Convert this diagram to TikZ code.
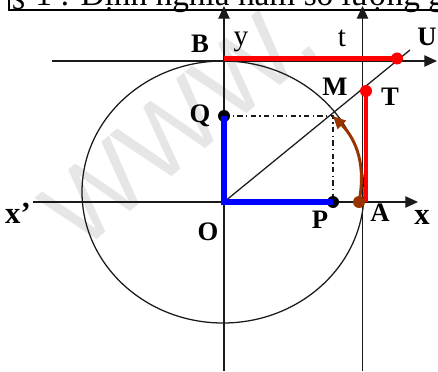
\documentclass[tikz,border=0pt]{standalone}
\usepackage{fontspec}
\setmainfont{Liberation Serif}
\newfontfamily\marksans{Liberation Sans}
\usetikzlibrary{arrows.meta}
\definecolor{Ink}{HTML}{1A1A1A}
\definecolor{Brick}{HTML}{993300}
\definecolor{Mark}{HTML}{E6E6E6}
\tikzset{
  axis/.style={draw=Ink,line width=.95pt,-{Triangle[length=9.5pt,width=8.5pt]}},
  guide/.style={draw=Ink,line width=.95pt},
  proj/.style={draw=Ink,line width=.95pt,dash pattern=on 4pt off 2.5pt on 1pt off 2.5pt},
  bluebar/.style={draw=blue,line width=4pt},
  redbar/.style={draw=red,line width=3.5pt},
  pin/.style={circle,inner sep=0pt,minimum size=9pt,fill=#1},
  lbl/.style={font=\bfseries\fontsize{20}{23}\selectfont,inner sep=0pt},
  axlbl/.style={font=\fontsize{22}{26}\selectfont,inner sep=0pt},
  arcarrow/.style={draw=Brick,line width=2.2pt,-{Triangle[length=9.5pt,width=8.5pt]}}
}

\begin{document}
\begin{tikzpicture}[x=.75pt,y=.75pt]
  \useasboundingbox (-224,-169) rectangle (214,202);

  % watermark and heading
  \node[font=\marksans\fontsize{78}{78}\selectfont,text=Mark,rotate=40] (mark) at (-45,78) {WWW.};
  \draw[line width=1pt] (-215,240) |- (240,192);
  \node[anchor=base west,inner sep=0pt,font=\fontsize{25}{30}\selectfont] (head) at (-214,196) {§ 1 : Định nghĩa hàm số lượng giác};

  % points
  \coordinate (O) at (0,0);
  \coordinate (A) at (138.5,0);
  \coordinate (B) at (0,143.5);
  \coordinate (M) at (109,86);
  \coordinate (P) at (109,0);
  \coordinate (Q) at (0,86);
  \coordinate (T) at (142,111);
  \coordinate (U) at (173,143.5);
  \coordinate (Aa) at (135,0);
  \coordinate (ray) at (186,152);

  % circle and axes
  \draw[guide] (-1,10) ellipse [x radius=141,y radius=131];
  \draw[axis] (0,-169) -- (0,196);
  \draw[axis] (138.5,-169) -- (138.5,196);
  \draw[axis] (-191,0) -- (194,0);
  \draw[axis] (-172,141) -- (213,141);
  \draw[guide] (O) -- (ray);

  % projections
  \draw[proj] (Q) -- (M) -- (P);
  \node[pin=black] (Qdot) at (Q) {};
  \node[pin=black] (Pdot) at (P) {};
  \draw[bluebar] (Qdot.center) -- (O) -- (Pdot.center);

  % tangent values
  \draw[redbar] (B) -- (U);
  \node[pin=red] (Udot) at (U) {};
  \draw[redbar] (142,0) -- (T);
  \node[pin=red] (Tdot) at (T) {};

  % arc AM
  \node[pin=Brick] (Adot) at (Aa) {};
  \draw[arcarrow] (Adot.center) to[bend right=28] (M);

  % labels
  \node[lbl] (lB) at (-24,158) {B};
  \node[axlbl] (ly) at (17,160) {y};
  \node[axlbl] (lt) at (118,164) {t};
  \node[lbl] (lU) at (203,165) {U};
  \node[lbl] (lM) at (111,115) {M};
  \node[lbl] (lT) at (166,105) {T};
  \node[lbl] (lQ) at (-24,86) {Q};
  \node[lbl] (lO) at (-16,-30) {O};
  \node[lbl] (lP) at (96,-18) {P};
  \node[lbl] (lA) at (156,-11) {A};
  \node[lbl,font=\bfseries\fontsize{23}{26}\selectfont] (lx) at (198,-15) {x};
  \node[lbl,font=\bfseries\fontsize{23}{26}\selectfont] (lxx) at (-206,-11) {x’};
\end{tikzpicture}
\end{document}
